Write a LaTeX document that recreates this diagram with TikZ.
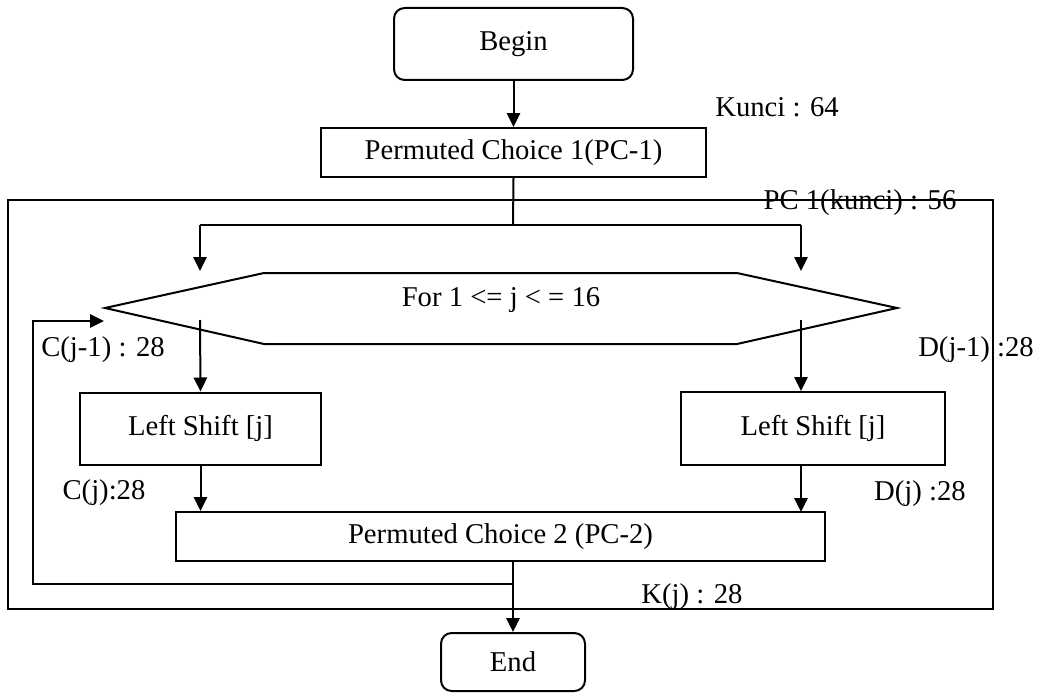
\documentclass[tikz,border=0pt]{standalone}
\usepackage{fontspec}
\setmainfont{Liberation Serif}
\usetikzlibrary{arrows.meta}
\begin{document}
\begin{tikzpicture}[x=0.75pt,y=-0.75pt,
  every node/.style={font=\fontsize{21.5}{25}\selectfont, inner sep=0pt},
  ln/.style={line width=1.5pt},
  arr/.style={line width=1.5pt,-{Triangle[length=10.5pt,width=10pt]}},
  procbox/.style={draw,line width=1.5pt,rectangle},
  termbox/.style={draw,line width=1.5pt,rectangle,rounded corners=8pt},
  lbl/.style={anchor=center}]
\useasboundingbox (0,0) rectangle (1045,699);
% outer frame
\draw[ln] (8,200) rectangle (993,609);
% nodes
\node[termbox,minimum width={239*0.75pt},minimum height={72*0.75pt}] (begin) at (513.5,44) {Begin};
\node[procbox,minimum width={385*0.75pt},minimum height={49*0.75pt}] (pc1) at (513.5,152.5) {\raisebox{-4pt}{Permuted Choice 1(PC-1)}};
\node[lbl] (kunci) at (777,107) {Kunci : 64};
\node[lbl] (pck) at (860,203) {PC 1(kunci) : 56};
% hexagon
\coordinate (h1) at (105,308);
\coordinate (h2) at (264,273);
\coordinate (h3) at (737,273);
\coordinate (h4) at (897,308);
\coordinate (h5) at (737,344);
\coordinate (h6) at (264,344);
\draw[ln] (h1) -- (h2) -- (h3) -- (h4) -- (h5) -- (h6) -- cycle;
\node[lbl] (for) at (501,300) {For 1 <= j < = 16};
% left shift boxes
\node[procbox,minimum width={241*0.75pt},minimum height={72*0.75pt}] (lsl) at (200.5,428.5) {Left Shift [j]};
\node[procbox,minimum width={264*0.75pt},minimum height={73*0.75pt}] (lsr) at (813,428.5) {Left Shift [j]};
% pc2
\node[procbox,minimum width={649*0.75pt},minimum height={49*0.75pt}] (pc2) at (500.5,536.5) {\raisebox{-4pt}{Permuted Choice 2 (PC-2)}};
% end
\node[termbox,minimum width={144*0.75pt},minimum height={58*0.75pt}] (end) at (513,662) {End};
% labels
\node[lbl] (cj1) at (103,350) {C(j-1) : 28};
\node[lbl] (dj1) at (976,350) {D(j-1) :28};
\node[lbl] (cj) at (104,493) {C(j):28};
\node[lbl] (dj) at (920,494) {D(j) :28};
\node[lbl] (kj) at (692,597) {K(j) : 28};
% coordinates for connectors
\coordinate (split) at (513,225);
\coordinate (splitl) at (200,225);
\coordinate (splitr) at (801,225);
\coordinate (hinl) at (200,271);
\coordinate (hinr) at (801,271);
\coordinate (houtl) at (200,320);
\coordinate (houtr) at (801,320);
\coordinate (lsrout) at (801,464.5);
\coordinate (pc2inr) at (801,512);
\coordinate (pc2out) at (513,561);
\coordinate (fb) at (513,584);
\coordinate (fbl) at (33,584);
\coordinate (fbu) at (33,321);
\coordinate (fbend) at (104,321);
% connectors
\draw[arr] (begin.south) -- (pc1.north);
\draw[ln] (pc1.south) -- (split);
\draw[ln] (splitl) -- (splitr);
\draw[arr] (splitl) -- (hinl);
\draw[arr] (splitr) -- (hinr);
\draw[arr] (houtl) -- (lsl.north);
\draw[arr] (houtr) -- (houtr |- lsr.north);
\draw[arr] (lsl.south) -- (lsl.south |- pc2.north);
\draw[arr] (lsrout) -- (pc2inr);
\draw[arr] (pc2out) -- (end.north);
\draw[arr] (fb) -- (fbl) -- (fbu) -- (fbend);
\end{tikzpicture}
\end{document}
